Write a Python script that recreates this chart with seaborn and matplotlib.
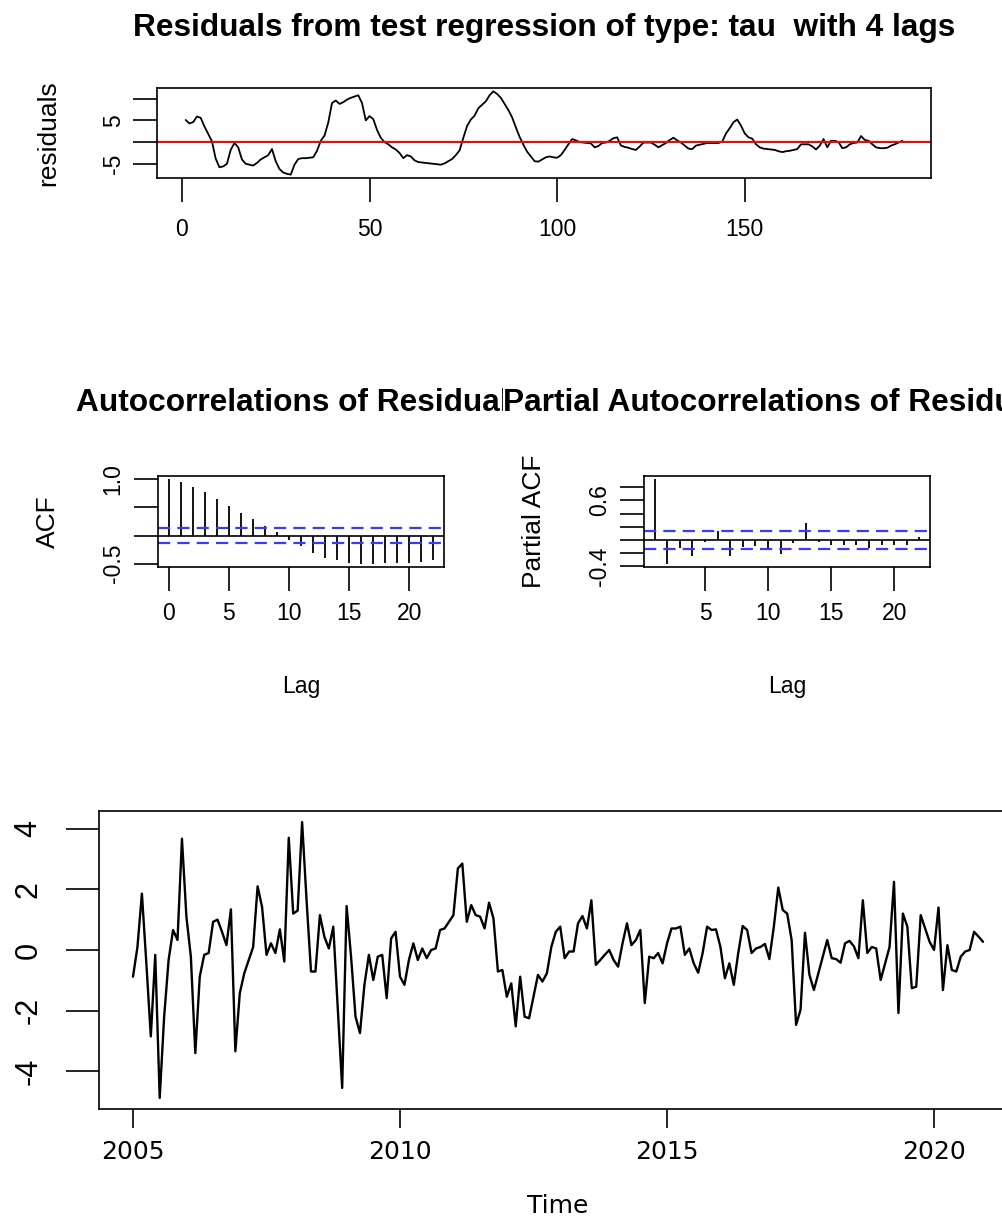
import numpy as np
import pandas as pd
import matplotlib
matplotlib.use("Agg")
import matplotlib.pyplot as plt
import seaborn as sns

# ---------------------------------------------------------------- data
# residuals of the ADF test regression (type tau, 4 lags), observations 1..192
residuals = [
    5.1, 4.3, 4.6, 5.9, 5.6, 3.6, 1.9, 0.2, -3.8, -5.8,
    -5.6, -5.0, -1.8, -0.2, -1.2, -4.0, -5.0, -5.2, -5.4, -4.8,
    -4.0, -3.5, -3.0, -1.6, -4.4, -6.2, -7.0, -7.3, -7.5, -5.2,
    -3.9, -3.7, -3.7, -3.6, -3.5, -2.0, 0.3, 1.5, 4.5, 9.0,
    9.6, 8.8, 9.2, 9.8, 10.2, 10.5, 10.8, 9.0, 5.0, 6.0,
    5.3, 2.8, 1.0, 0.0, -0.5, -1.2, -1.7, -2.5, -3.7, -3.0,
    -3.3, -4.2, -4.6, -4.7, -4.8, -4.9, -5.0, -5.1, -5.2, -4.9,
    -4.4, -3.9, -3.0, -1.9, 1.0, 3.7, 5.2, 6.1, 7.8, 8.6,
    9.4, 10.8, 11.7, 11.1, 10.2, 8.8, 7.4, 5.7, 3.4, 1.2,
    -0.6, -2.2, -3.3, -4.4, -4.5, -4.0, -3.5, -3.3, -3.5, -3.6,
    -3.0, -1.8, -0.5, 0.7, 0.4, 0.0, -0.1, -0.2, -0.3, -1.2,
    -0.9, -0.2, -0.1, 0.3, 0.9, 1.1, -0.8, -1.1, -1.3, -1.6,
    -1.8, -1.0, -0.1, -0.1, -0.1, -0.6, -1.2, -0.7, -0.2, 0.5,
    1.0, 0.4, -0.1, -0.8, -1.5, -1.6, -0.8, -0.6, -0.4, -0.2,
    -0.2, -0.2, -0.2, 0.1, 2.0, 3.2, 4.6, 5.2, 3.8, 2.0,
    1.1, 0.8, -0.5, -1.2, -1.5, -1.6, -1.7, -1.8, -2.1, -2.3,
    -2.1, -2.0, -1.8, -1.6, -0.5, -0.5, -0.5, -1.0, -1.7, -0.8,
    0.7, -1.2, 0.3, 0.3, 0.0, -1.4, -1.2, -0.5, -0.2, -0.1,
    1.4, 0.5, 0.3, -0.5, -1.2, -1.4, -1.4, -1.3, -0.8, -0.5,
    -0.1, 0.3,
]

# autocorrelations of the residuals, lags 0..22
acf_lags = list(range(0, 23))
acf_vals = [1.0, 0.96, 0.87, 0.77, 0.645, 0.52, 0.41, 0.30, 0.17, 0.06,
            -0.075, -0.19, -0.31, -0.395, -0.44, -0.49, -0.50, -0.50, -0.49,
            -0.48, -0.48, -0.465, -0.44]

# partial autocorrelations of the residuals, lags 1..22
pacf_lags = list(range(1, 23))
pacf_vals = [0.92, -0.36, -0.12, -0.24, -0.03, 0.13, -0.24, -0.10, -0.09,
             -0.14, -0.21, -0.04, 0.25, -0.03, -0.07, -0.08, -0.08, -0.12,
             -0.07, -0.08, -0.07, 0.04]

# 95% white-noise band
conf_band = 0.1415

# monthly differenced series, Jan 2005 .. Dec 2020
series_start = 2005.0
series_vals = [
    -0.88, 0.1, 1.86, -0.44, -2.85, -0.16, -4.88, -2.2, -0.33, 0.66,
    0.33, 3.67, 1.1, -0.22, -3.4, -0.88, -0.16, -0.1, 0.93, 1.0,
    0.6, 0.16, 1.34, -3.34, -1.42, -0.77, -0.33, 0.1, 2.1, 1.42,
    -0.16, 0.22, -0.1, 0.68, -0.38, 3.7, 1.2, 1.3, 4.22, 1.64,
    -0.71, -0.71, 1.15, 0.44, 0.05, 0.77, -1.9, -4.55, 1.45, -0.22,
    -2.2, -2.74, -1.15, -0.16, -0.99, -0.22, -0.16, -1.59, 0.38, 0.6,
    -0.88, -1.15, -0.33, 0.22, -0.33, 0.05, -0.27, 0.0, 0.05, 0.66,
    0.71, 0.93, 1.15, 2.69, 2.85, 0.93, 1.48, 1.15, 1.1, 0.71,
    1.56, 1.04, -0.71, -0.66, -1.54, -1.1, -2.52, -0.88, -2.2, -2.25,
    -1.54, -0.82, -1.04, -0.77, 0.1, 0.6, 0.77, -0.27, -0.05, -0.05,
    0.88, 1.12, 0.71, 1.64, -0.49, -0.33, -0.16, 0.0, -0.33, -0.55,
    0.22, 0.88, 0.16, 0.33, 0.66, -1.75, -0.22, -0.27, -0.1, -0.44,
    0.22, 0.71, 0.71, 0.77, -0.16, 0.05, -0.44, -0.75, -0.1, 0.77,
    0.66, 0.68, 0.1, -0.93, -0.44, -1.15, -0.1, 0.79, 0.66, -0.1,
    0.05, 0.1, 0.2, -0.3, 0.77, 2.06, 1.32, 1.2, 0.33, -2.47,
    -1.97, 0.57, -0.82, -1.32, -0.77, -0.22, 0.33, -0.27, -0.3, -0.42,
    0.22, 0.3, 0.12, -0.27, 1.64, -0.1, 0.1, 0.05, -0.99, -0.44,
    0.1, 2.25, -2.08, 1.2, 0.77, -1.26, -1.21, 1.15, 0.71, 0.27,
    0.0, 1.4, -1.32, 0.16, -0.66, -0.71, -0.22, -0.05, 0.0, 0.6,
    0.44, 0.27,
]

# ---------------------------------------------------------------- style
sns.set_theme(style="white")
plt.rcParams["font.family"] = ["Liberation Sans", "DejaVu Sans"]
plt.rcParams["text.color"] = "black"
plt.rcParams["axes.labelcolor"] = "black"
plt.rcParams["axes.edgecolor"] = "black"
plt.rcParams["axes.linewidth"] = 1.2

W, H = 1003, 1218
fig = plt.figure(figsize=(W / 100, H / 100), dpi=100)
fig.patch.set_facecolor("white")

TICK_FS = 16.5
YLAB_FS = 19
TITLE_FS = 22.8
BAND_COLOR = "#3a3aff"


def add_axes_px(x0, y0, x1, y1):
    return fig.add_axes([x0 / W, 1 - y1 / H, (x1 - x0) / W, (y1 - y0) / H])


def padded(lo, hi, frac=0.04):
    p = frac * (hi - lo)
    return lo - p, hi + p


def r_axes(ax, ticklen=17, xpad=12, ypad=7, size=TICK_FS):
    ax.tick_params(axis="both", which="both", direction="out", bottom=True,
                   left=True, top=False, right=False, length=ticklen,
                   width=1.2, color="black", labelcolor="black",
                   labelsize=size)
    ax.tick_params(axis="x", pad=xpad)
    ax.tick_params(axis="y", pad=ypad)
    for s in ax.spines.values():
        s.set_visible(True)
        s.set_color("black")
        s.set_linewidth(1.2)
    ax.grid(False)


def y_ticks(ax, ticks, labels, size=TICK_FS):
    ax.set_yticks(ticks)
    ax.set_yticklabels(labels, rotation=90, va="center", fontsize=size)


# ---------------------------------------------------------------- residual plot
ax1 = add_axes_px(157, 88, 931, 178)
n = len(residuals)
res_df = pd.DataFrame({"obs": np.arange(1, n + 1), "residuals": residuals})
sns.lineplot(data=res_df, x="obs", y="residuals", color="black", lw=1.3,
             ax=ax1)
ax1.axhline(0, color="red", lw=1.5)
ax1.set_xlim(*padded(1, n))
ax1.set_ylim(*padded(min(residuals), max(residuals)))
r_axes(ax1, xpad=12, ypad=6)
ax1.set_xticks([0, 50, 100, 150])
ax1.set_xticklabels(["0", "50", "100", "150"])
y_ticks(ax1, [-5, 0, 5, 10], ["-5", "", "5", ""])
ax1.set_xlabel("")
ax1.set_ylabel("residuals", fontsize=YLAB_FS, labelpad=30)
fig.text(544 / W, 1 - 28 / H,
         "Residuals from test regression of type: tau  with 4 lags",
         ha="center", va="center", fontsize=TITLE_FS, fontweight="bold")

# ---------------------------------------------------------------- ACF
ax2 = add_axes_px(158, 476, 444, 567)
ax2.vlines(acf_lags, 0, acf_vals, color="black", lw=1.3)
ax2.axhline(0, color="black", lw=1.2)
for c in (conf_band, -conf_band):
    ax2.axhline(c, color=BAND_COLOR, lw=1.6, ls=(0, (5.5, 3.2)))
ax2.set_xlim(*padded(min(acf_lags), max(acf_lags)))
ax2.set_ylim(*padded(min(min(acf_vals), -conf_band),
                     max(max(acf_vals), conf_band)))
r_axes(ax2, xpad=8, ypad=7)
ax2.set_xticks([0, 5, 10, 15, 20])
ax2.set_xticklabels(["0", "5", "10", "15", "20"])
y_ticks(ax2, [-0.5, 0.0, 0.5, 1.0], ["-0.5", "", "", "1.0"])
ax2.set_xlabel("Lag", fontsize=TICK_FS, labelpad=36)
ax2.set_ylabel("ACF", fontsize=YLAB_FS, labelpad=30)

# ---------------------------------------------------------------- PACF
ax3 = add_axes_px(644, 476, 930, 567)
ax3.vlines(pacf_lags, 0, pacf_vals, color="black", lw=1.3)
ax3.axhline(0, color="black", lw=1.2)
for c in (conf_band, -conf_band):
    ax3.axhline(c, color=BAND_COLOR, lw=1.6, ls=(0, (5.5, 3.2)))
ax3.set_xlim(*padded(min(pacf_lags), max(pacf_lags)))
ax3.set_ylim(*padded(min(min(pacf_vals), -conf_band),
                     max(max(pacf_vals), conf_band)))
r_axes(ax3, xpad=8, ypad=7)
ax3.set_xticks([5, 10, 15, 20])
ax3.set_xticklabels(["5", "10", "15", "20"])
y_ticks(ax3, [-0.4, -0.2, 0.0, 0.2, 0.4, 0.6, 0.8],
        ["-0.4", "", "", "", "", "0.6", ""])
ax3.set_xlabel("Lag", fontsize=TICK_FS, labelpad=36)
ax3.set_ylabel("Partial ACF", fontsize=YLAB_FS, labelpad=30)

# panel titles; the right one sits on a white box so it masks the
# overhanging end of the left one
fig.text(301 / W, 1 - 403 / H, "Autocorrelations of Residuals",
         ha="center", va="center", fontsize=TITLE_FS, fontweight="bold",
         zorder=3)
fig.text(780 / W, 1 - 403 / H, "Partial Autocorrelations of Residuals",
         ha="center", va="center", fontsize=TITLE_FS, fontweight="bold",
         zorder=4,
         bbox=dict(boxstyle="square,pad=0", facecolor="white",
                   edgecolor="none"))

# ---------------------------------------------------------------- time series
ax4 = add_axes_px(99, 811, 1017, 1109)
m = len(series_vals)
ts_df = pd.DataFrame({"Time": series_start + np.arange(m) / 12.0,
                      "value": series_vals})
sns.lineplot(data=ts_df, x="Time", y="value", color="black", lw=1.7, ax=ax4)
ax4.set_xlim(*padded(ts_df["Time"].min(), ts_df["Time"].max()))
ax4.set_ylim(*padded(min(series_vals), max(series_vals)))
r_axes(ax4, ticklen=14, xpad=8, ypad=16, size=18)
ax4.tick_params(axis="y", length=24)
ax4.set_xticks([2005, 2010, 2015, 2020])
ax4.set_xticklabels(["2005", "2010", "2015", "2020"],
                    fontfamily="DejaVu Sans", fontsize=18)
y_ticks(ax4, [-4, -2, 0, 2, 4], ["-4", "-2", "0", "2", "4"], size=22)
ax4.set_xlabel("Time", fontfamily="DejaVu Sans", fontsize=18, labelpad=22)
ax4.set_ylabel("")

fig.savefig("out.png", dpi=100, facecolor="white")
